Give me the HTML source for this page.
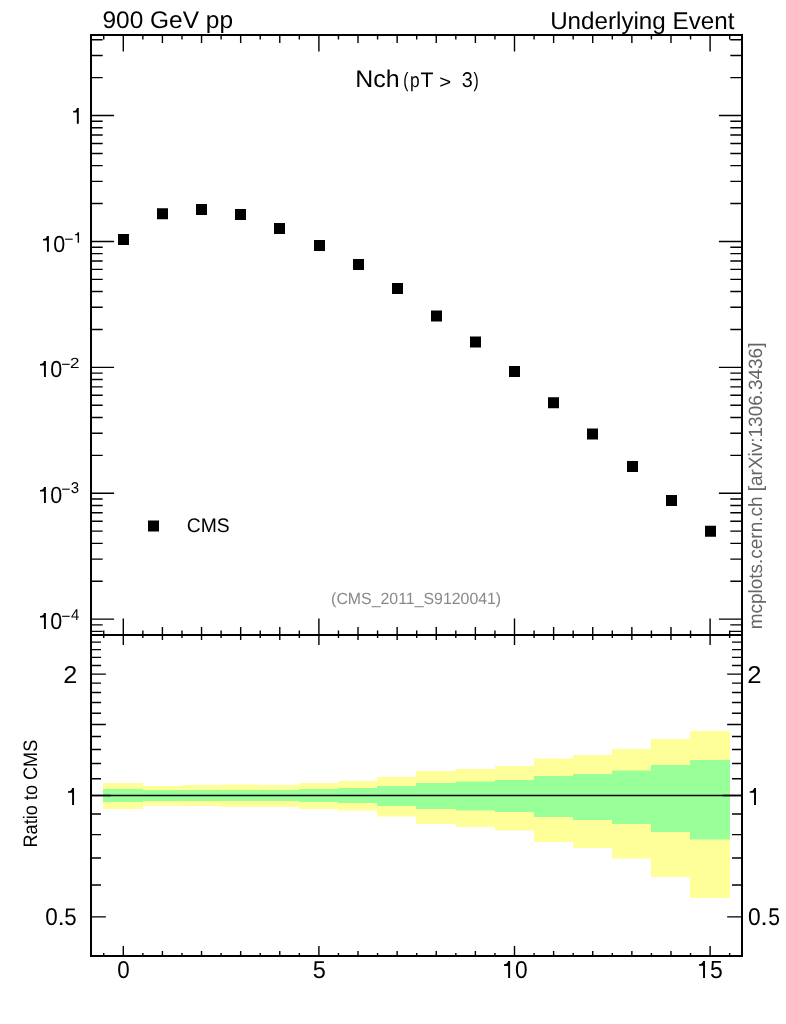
<!DOCTYPE html>
<html><head><meta charset="utf-8"><style>
html,body{margin:0;padding:0;background:#fff;width:786px;height:1024px;overflow:hidden;font-family:"Liberation Sans",sans-serif}
svg{display:block;will-change:transform}
.t text{font-family:"Liberation Sans",sans-serif;white-space:pre;text-rendering:geometricPrecision}
</style></head><body>
<svg width="786" height="1024" viewBox="0 0 786 1024">
<rect width="786" height="1024" fill="#fff"/>
<path d="M103 783H143V809H103ZM143 786H182V805.5H143ZM182 785H221V806H182ZM221 784.5H260V807H221ZM260 785H299V807H260ZM299 783H338V809H299ZM338 781H377V810.5H338ZM377 777H416V816.5H377ZM416 771H456V824H416ZM456 769H495V827H456ZM495 766H534V830.5H495ZM534 758.5H573V842H534ZM573 755H612V848H573ZM612 749H651V858.5H612ZM651 739H690V877H651ZM690 731H730V898H690Z" fill="#ffff99"/>
<path d="M103 789H143V802H103ZM143 790H182V801H143ZM182 790H221V801H182ZM221 790H260V801H221ZM260 790H299V801H260ZM299 789H338V802H299ZM338 788H377V803H338ZM377 786H416V806H377ZM416 783H456V809H416ZM456 781.5H495V810.5H456ZM495 780H534V812H495ZM534 776H573V817H534ZM573 774H612V820H573ZM612 770.5H651V824H612ZM651 765H690V832H651ZM690 760H730V839.5H690Z" fill="#99ff99"/>
<path d="M91 795.5H742" stroke="#000" stroke-width="1.5"/>
<path d="M91 631.35H102.7M730.3 631.35H742M91 624.91H102.7M730.3 624.91H742M91 619.15H114.1M718.9 619.15H742M91 581.25H102.7M730.3 581.25H742M91 559.08H102.7M730.3 559.08H742M91 543.35H102.7M730.3 543.35H742M91 531.15H102.7M730.3 531.15H742M91 521.18H102.7M730.3 521.18H742M91 512.75H102.7M730.3 512.75H742M91 505.45H102.7M730.3 505.45H742M91 499.01H102.7M730.3 499.01H742M91 493.25H114.1M718.9 493.25H742M91 455.35H102.7M730.3 455.35H742M91 433.18H102.7M730.3 433.18H742M91 417.45H102.7M730.3 417.45H742M91 405.25H102.7M730.3 405.25H742M91 395.28H102.7M730.3 395.28H742M91 386.85H102.7M730.3 386.85H742M91 379.55H102.7M730.3 379.55H742M91 373.11H102.7M730.3 373.11H742M91 367.35H114.1M718.9 367.35H742M91 329.45H102.7M730.3 329.45H742M91 307.28H102.7M730.3 307.28H742M91 291.55H102.7M730.3 291.55H742M91 279.35H102.7M730.3 279.35H742M91 269.38H102.7M730.3 269.38H742M91 260.95H102.7M730.3 260.95H742M91 253.65H102.7M730.3 253.65H742M91 247.21H102.7M730.3 247.21H742M91 241.45H114.1M718.9 241.45H742M91 203.55H102.7M730.3 203.55H742M91 181.38H102.7M730.3 181.38H742M91 165.65H102.7M730.3 165.65H742M91 153.45H102.7M730.3 153.45H742M91 143.48H102.7M730.3 143.48H742M91 135.05H102.7M730.3 135.05H742M91 127.75H102.7M730.3 127.75H742M91 121.31H102.7M730.3 121.31H742M91 115.55H114.1M718.9 115.55H742M91 77.65H102.7M730.3 77.65H742M91 55.48H102.7M730.3 55.48H742M91 39.75H102.7M730.3 39.75H742M103.74 35V39.6M103.74 635V630.4M103.74 635V638M103.74 956V953M123.3 35V51.5M123.3 635V618.5M123.3 635V645M123.3 956V946M142.86 35V39.6M142.86 635V630.4M142.86 635V638M142.86 956V953M162.42 35V43.1M162.42 635V626.9M162.42 635V640.1M162.42 956V950.9M181.98 35V39.6M181.98 635V630.4M181.98 635V638M181.98 956V953M201.54 35V43.1M201.54 635V626.9M201.54 635V640.1M201.54 956V950.9M221.1 35V39.6M221.1 635V630.4M221.1 635V638M221.1 956V953M240.66 35V43.1M240.66 635V626.9M240.66 635V640.1M240.66 956V950.9M260.22 35V39.6M260.22 635V630.4M260.22 635V638M260.22 956V953M279.78 35V43.1M279.78 635V626.9M279.78 635V640.1M279.78 956V950.9M299.34 35V39.6M299.34 635V630.4M299.34 635V638M299.34 956V953M318.9 35V51.5M318.9 635V618.5M318.9 635V645M318.9 956V946M338.46 35V39.6M338.46 635V630.4M338.46 635V638M338.46 956V953M358.02 35V43.1M358.02 635V626.9M358.02 635V640.1M358.02 956V950.9M377.58 35V39.6M377.58 635V630.4M377.58 635V638M377.58 956V953M397.14 35V43.1M397.14 635V626.9M397.14 635V640.1M397.14 956V950.9M416.7 35V39.6M416.7 635V630.4M416.7 635V638M416.7 956V953M436.26 35V43.1M436.26 635V626.9M436.26 635V640.1M436.26 956V950.9M455.82 35V39.6M455.82 635V630.4M455.82 635V638M455.82 956V953M475.38 35V43.1M475.38 635V626.9M475.38 635V640.1M475.38 956V950.9M494.94 35V39.6M494.94 635V630.4M494.94 635V638M494.94 956V953M514.5 35V51.5M514.5 635V618.5M514.5 635V645M514.5 956V946M534.06 35V39.6M534.06 635V630.4M534.06 635V638M534.06 956V953M553.62 35V43.1M553.62 635V626.9M553.62 635V640.1M553.62 956V950.9M573.18 35V39.6M573.18 635V630.4M573.18 635V638M573.18 956V953M592.74 35V43.1M592.74 635V626.9M592.74 635V640.1M592.74 956V950.9M612.3 35V39.6M612.3 635V630.4M612.3 635V638M612.3 956V953M631.86 35V43.1M631.86 635V626.9M631.86 635V640.1M631.86 956V950.9M651.42 35V39.6M651.42 635V630.4M651.42 635V638M651.42 956V953M670.98 35V43.1M670.98 635V626.9M670.98 635V640.1M670.98 956V950.9M690.54 35V39.6M690.54 635V630.4M690.54 635V638M690.54 956V953M710.1 35V51.5M710.1 635V618.5M710.1 635V645M710.1 956V946M729.66 35V39.6M729.66 635V630.4M729.66 635V638M729.66 956V953M91 916.91H105.85M727.15 916.91H742M91 884.97H101M732 884.97H742M91 857.97H101M732 857.97H742M91 834.58H101M732 834.58H742M91 813.95H101M732 813.95H742M91 795.5H110.4M722.6 795.5H742M91 778.81H101M732 778.81H742M91 763.57H101M732 763.57H742M91 749.55H101M732 749.55H742M91 736.57H101M732 736.57H742M91 724.48H105.85M727.15 724.48H742M91 713.18H101M732 713.18H742M91 702.56H101M732 702.56H742M91 692.55H101M732 692.55H742M91 683.08H101M732 683.08H742M91 674.09H105.85M727.15 674.09H742M91 665.55H101M732 665.55H742M91 657.4H101M732 657.4H742M91 649.62H101M732 649.62H742M91 642.16H101M732 642.16H742" stroke="#000" stroke-width="1.4" fill="none"/>
<path d="M91 35H742V956H91Z M91 635H742" stroke="#000" stroke-width="2" fill="none"/>
<path d="M118 234h11v11h-11ZM157 208.2h11v11h-11ZM196 203.9h11v11h-11ZM235 208.9h11v11h-11ZM274 223.1h11v11h-11ZM314 240h11v11h-11ZM353 258.9h11v11h-11ZM392 283.1h11v11h-11ZM431 310.5h11v11h-11ZM470 336.6h11v11h-11ZM509 366.1h11v11h-11ZM548 397.3h11v11h-11ZM587 428.6h11v11h-11ZM627 461h11v11h-11ZM666 495h11v11h-11ZM705 525.8h11v11h-11ZM148 520.6h11v11h-11Z" fill="#000"/>
<g class="t"><text x="102.45" y="28.1" font-size="24" fill="#000" textLength="130.57" lengthAdjust="spacingAndGlyphs">900 GeV pp</text><text x="550.13" y="28.6" font-size="24.2" fill="#000" textLength="184.24" lengthAdjust="spacingAndGlyphs">Underlying Event</text><text x="355.36" y="86.5" font-size="24" fill="#000" textLength="44.31" lengthAdjust="spacingAndGlyphs">Nch</text><text x="403.24" y="87.31" font-size="20.72" fill="#000" textLength="5.15" lengthAdjust="spacingAndGlyphs">(</text><text x="409.88" y="86.79" font-size="20.27" fill="#000" textLength="9.65" lengthAdjust="spacingAndGlyphs">p</text><text x="420.42" y="86.9" font-size="20.93" fill="#000" textLength="12.96" lengthAdjust="spacingAndGlyphs">T</text><text x="439.2" y="87.68" font-size="18.31" fill="#000" textLength="11.9" lengthAdjust="spacingAndGlyphs">&gt;</text><text x="461.84" y="87.19" font-size="21.33" fill="#000" textLength="11.03" lengthAdjust="spacingAndGlyphs">3</text><text x="473.46" y="87.31" font-size="20.72" fill="#000" textLength="5.21" lengthAdjust="spacingAndGlyphs">)</text><path d="M76.85 108H78.8V123.7H76.85V112.47H73.1V110.98C75.66 110.98 76.56 109.88 76.85 108Z" fill="#000"/><path d="M46.95 235.9H48.9V251.8H46.95V240.43H43V238.92C45.66 238.92 46.65 237.81 46.95 235.9Z" fill="#000"/><text x="53.16" y="252.07" font-size="23.3" fill="#000" textLength="11.98" lengthAdjust="spacingAndGlyphs">0</text><rect x="65.1" y="238.65" width="7.6" height="1.1" fill="#000"/><path d="M77.63 232.3H79.05V242.8H77.63V235.29H75.1V234.3C76.88 234.3 77.43 233.56 77.63 232.3Z" fill="#000"/><path d="M43.95 361H45.9V376.9H43.95V365.53H40V364.02C42.66 364.02 43.65 362.91 43.95 361Z" fill="#000"/><text x="50.16" y="377.17" font-size="23.3" fill="#000" textLength="11.98" lengthAdjust="spacingAndGlyphs">0</text><rect x="62.1" y="363.75" width="7.6" height="1.1" fill="#000"/><text x="70.14" y="367.7" font-size="14.75" fill="#000" textLength="9.46" lengthAdjust="spacingAndGlyphs">2</text><path d="M43.95 487H45.9V503H43.95V491.56H40V490.04C42.66 490.04 43.65 488.92 43.95 487Z" fill="#000"/><text x="50.16" y="503.27" font-size="23.45" fill="#000" textLength="11.98" lengthAdjust="spacingAndGlyphs">0</text><rect x="62.1" y="488.65" width="7.6" height="1.1" fill="#000"/><text x="70.73" y="492.95" font-size="15.61" fill="#000" textLength="8.33" lengthAdjust="spacingAndGlyphs">3</text><path d="M43.95 613H45.9V628.9H43.95V617.53H40V616.02C42.66 616.02 43.65 614.91 43.95 613Z" fill="#000"/><text x="50.16" y="629.17" font-size="23.3" fill="#000" textLength="11.98" lengthAdjust="spacingAndGlyphs">0</text><rect x="62.1" y="615.75" width="7.6" height="1.1" fill="#000"/><text x="70.96" y="619.7" font-size="15.48" fill="#000" textLength="8.22" lengthAdjust="spacingAndGlyphs">4</text><text x="186.72" y="532.1" font-size="19.6" fill="#000" textLength="42.97" lengthAdjust="spacingAndGlyphs">CMS</text><text x="331.12" y="603.8" font-size="16.2" fill="#888" textLength="170.06" lengthAdjust="spacingAndGlyphs">(CMS_2011_S9120041)</text><text x="0" y="0" transform="translate(762,629.26) rotate(-90)" font-size="19.2" fill="#666" textLength="286.71" lengthAdjust="spacingAndGlyphs">mcplots.cern.ch [arXiv:1306.3436]</text><text x="0" y="0" transform="translate(36.75,847.49) rotate(-90)" font-size="19.5" fill="#000" textLength="107.77" lengthAdjust="spacingAndGlyphs">Ratio to CMS</text><text x="63.33" y="682.95" font-size="24.42" fill="#000" textLength="14.04" lengthAdjust="spacingAndGlyphs">2</text><path d="M72.1 787.9H74.05V805H72.1V792.77H68V791.15C70.72 791.15 71.8 789.95 72.1 787.9Z" fill="#000"/><text x="45.17" y="925.31" font-size="24.51" fill="#000" textLength="12.51" lengthAdjust="spacingAndGlyphs">0</text><text x="57.5" y="925" font-size="23.38" fill="#000" textLength="7.29" lengthAdjust="spacingAndGlyphs">.</text><text x="64.3" y="925.06" font-size="24.08" fill="#000" textLength="12.43" lengthAdjust="spacingAndGlyphs">5</text><text x="747.21" y="682.9" font-size="24.2" fill="#000" textLength="14.28" lengthAdjust="spacingAndGlyphs">2</text><path d="M754.05 787.9H756V805H754.05V792.77H749.8V791.15C752.59 791.15 753.74 789.95 754.05 787.9Z" fill="#000"/><text x="748.11" y="925.31" font-size="24.51" fill="#000" textLength="12.68" lengthAdjust="spacingAndGlyphs">0</text><text x="760.31" y="925" font-size="23.38" fill="#000" textLength="7.59" lengthAdjust="spacingAndGlyphs">.</text><text x="768.36" y="925.06" font-size="24.22" fill="#000" textLength="11.73" lengthAdjust="spacingAndGlyphs">5</text><text x="117.13" y="978.36" font-size="24.43" fill="#000" textLength="12.45" lengthAdjust="spacingAndGlyphs">0</text><text x="312.85" y="978.16" font-size="24.51" fill="#000" textLength="13.14" lengthAdjust="spacingAndGlyphs">5</text><path d="M508.15 961.1H510.1V977.9H508.15V965.89H504.05V964.29C506.77 964.29 507.85 963.12 508.15 961.1Z" fill="#000"/><text x="515.01" y="978.16" font-size="24.43" fill="#000" textLength="12.68" lengthAdjust="spacingAndGlyphs">0</text><path d="M703.05 961H705V977.95H703.05V965.83H699V964.22C701.7 964.22 702.75 963.03 703.05 961Z" fill="#000"/><text x="710.08" y="978.26" font-size="24.87" fill="#000" textLength="12.79" lengthAdjust="spacingAndGlyphs">5</text></g>
</svg>
</body></html>
